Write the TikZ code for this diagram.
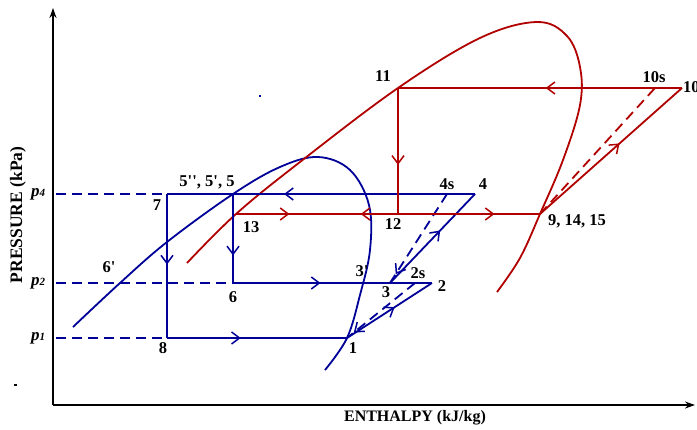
\documentclass[tikz,border=0pt]{standalone}
\usepackage{fontspec}
\setmainfont{Liberation Serif}
\usetikzlibrary{arrows.meta,decorations.markings}
\definecolor{cycblue}{HTML}{000099}
\definecolor{cycred}{HTML}{B00000}

\tikzset{
  blueline/.style={cycblue,line width=1.8pt},
  redline/.style={cycred,line width=1.8pt},
  dashline/.style={dash pattern=on 10pt off 6pt},
  flowmark/.style={postaction={decorate,decoration={markings,
      mark=at position #1 with {\arrow{Straight Barb[length=8pt,width=12pt,line width=1.5pt]}}}}},
  backmark/.style={postaction={decorate,decoration={markings,
      mark=at position #1 with {\arrowreversed{Straight Barb[length=8pt,width=12pt,line width=1.5pt]}}}}},
  lbl/.style={font=\fontsize{16.5}{18}\selectfont\bfseries,inner sep=1pt},
  plbl/.style={font=\fontsize{17}{18}\selectfont\bfseries\itshape,inner sep=1pt},
}
\newcommand{\pr}{\textquotesingle}

\begin{document}
\begin{tikzpicture}[x=1pt,y=-1pt]
  \useasboundingbox (0,0) rectangle (697,429);

  % axes
  \coordinate (orig) at (53,405);
  \coordinate (ytop) at (53,8);
  \coordinate (xend) at (695,405);
  \draw[line width=1.8pt,-{Stealth[length=10pt,width=7pt]}] (orig) -- (ytop);
  \draw[line width=1.8pt,-{Stealth[length=10pt,width=7pt]}] (orig) -- (xend);
  \node[font=\fontsize{17.5}{19}\selectfont\bfseries,rotate=90] (ylab) at (18,215) {PRESSURE (kPa)};
  \node[font=\fontsize{16}{18}\selectfont\bfseries] (xlab) at (415,418) {ENTHALPY (kJ/kg)};

  % state points
  \coordinate (n7) at (167,194);
  \coordinate (n5) at (233,194);
  \coordinate (n4s) at (447,194);
  \coordinate (n4) at (475,194);
  \coordinate (n6) at (233,283);
  \coordinate (n3) at (390,283);
  \coordinate (n2s) at (415,283);
  \coordinate (n2) at (432,283);
  \coordinate (n8) at (167,338);
  \coordinate (n1) at (347,338);
  \coordinate (n13) at (236,214);
  \coordinate (n12) at (398,214);
  \coordinate (n9) at (540,214);
  \coordinate (n11) at (398,88);
  \coordinate (n10s) at (655,88);
  \coordinate (n10) at (682,88);
  \coordinate (ax4) at (56,194);
  \coordinate (ax2) at (56,283);
  \coordinate (ax1) at (56,338);

  % pressure levels
  \draw[blueline,dashline] (ax4) -- (n7);
  \draw[blueline,dashline] (ax2) -- (n6);
  \draw[blueline,dashline] (ax1) -- (n8);
  \node[plbl] (lp4) at (38,194) {p\raisebox{-0.1ex}{\fontsize{11}{11}\selectfont 4}};
  \node[plbl] (lp2) at (38,283) {p\raisebox{-0.1ex}{\fontsize{11}{11}\selectfont 2}};
  \node[plbl] (lp1) at (38,338) {p\raisebox{-0.1ex}{\fontsize{11}{11}\selectfont 1}};

  % saturation domes
  \draw[blueline] plot[smooth,tension=0.6] coordinates {(73,327) (120,283) (167,242) (233,194)
    (280,167) (318,157) (350,170) (369,205) (370,250) (360,295) (347,338) (325,370)};
  \draw[redline] plot[smooth,tension=0.6] coordinates {(187,263) (236,214) (300,162) (398,88)
    (480,38) (537,22) (567,36) (580,67) (580,105) (563,160) (540,214) (520,258) (497,292)};

  % low-temperature cycle
  \draw[blueline,flowmark=0.62] (n4) -- (n7);
  \draw[blueline,flowmark=0.49] (n7) -- (n8);
  \draw[blueline,flowmark=0.41] (n8) -- (n1);
  \draw[blueline,flowmark=0.69] (n5) -- (n6);
  \draw[blueline,flowmark=0.44] (n6) -- (n2);
  \draw[blueline,flowmark=0.56] (n1) -- (n2);
  \draw[blueline,dashline,flowmark=0.9] (n2s) -- (n1);
  \draw[blueline,flowmark=0.59] (n3) -- (n4);
  \draw[blueline,dashline,flowmark=0.9] (n4s) -- (n3);

  % high-temperature cycle
  \draw[redline,flowmark=0.48] (n10) -- (n11);
  \draw[redline,flowmark=0.61] (n11) -- (n12);
  \draw[redline,flowmark=0.33,backmark=0.77] (n13) -- (n12);
  \draw[redline,flowmark=0.68] (n12) -- (n9);
  \draw[redline,flowmark=0.56] (n9) -- (n10);
  \draw[redline,dashline] (n9) -- (n10s);

  % labels
  \node[lbl] (l11) at (383,76) {11};
  \node[lbl] (l10s) at (654,77) {10s};
  \node[lbl,anchor=west] (l10) at (682,87) {10};
  \node[lbl,anchor=west] (l9) at (547,221) {9, 14, 15};
  \node[lbl] (l12) at (393,224) {12};
  \node[lbl] (l4s) at (447,184) {4s};
  \node[lbl] (l4) at (483,184) {4};
  \node[lbl] (l5) at (207,182) {5\pr\pr, 5\pr, 5};
  \node[lbl] (l7) at (157,205) {7};
  \node[lbl] (l6p) at (109,267) {6\pr};
  \node[lbl] (l8) at (163,348) {8};
  \node[lbl] (l6) at (233,297) {6};
  \node[lbl] (l13) at (251,227) {13};
  \node[lbl] (l3p) at (362,271) {3\pr};
  \node[lbl] (l3) at (386,292) {3};
  \node[lbl] (l2s) at (418,273) {2s};
  \node[lbl] (l2) at (442,286) {2};
  \node[lbl] (l1) at (353,348) {1};

  % stray dots
  \fill[cycblue] (259,95) rectangle (261,97);
  \fill (14,384) rectangle (17,386);
\end{tikzpicture}
\end{document}
